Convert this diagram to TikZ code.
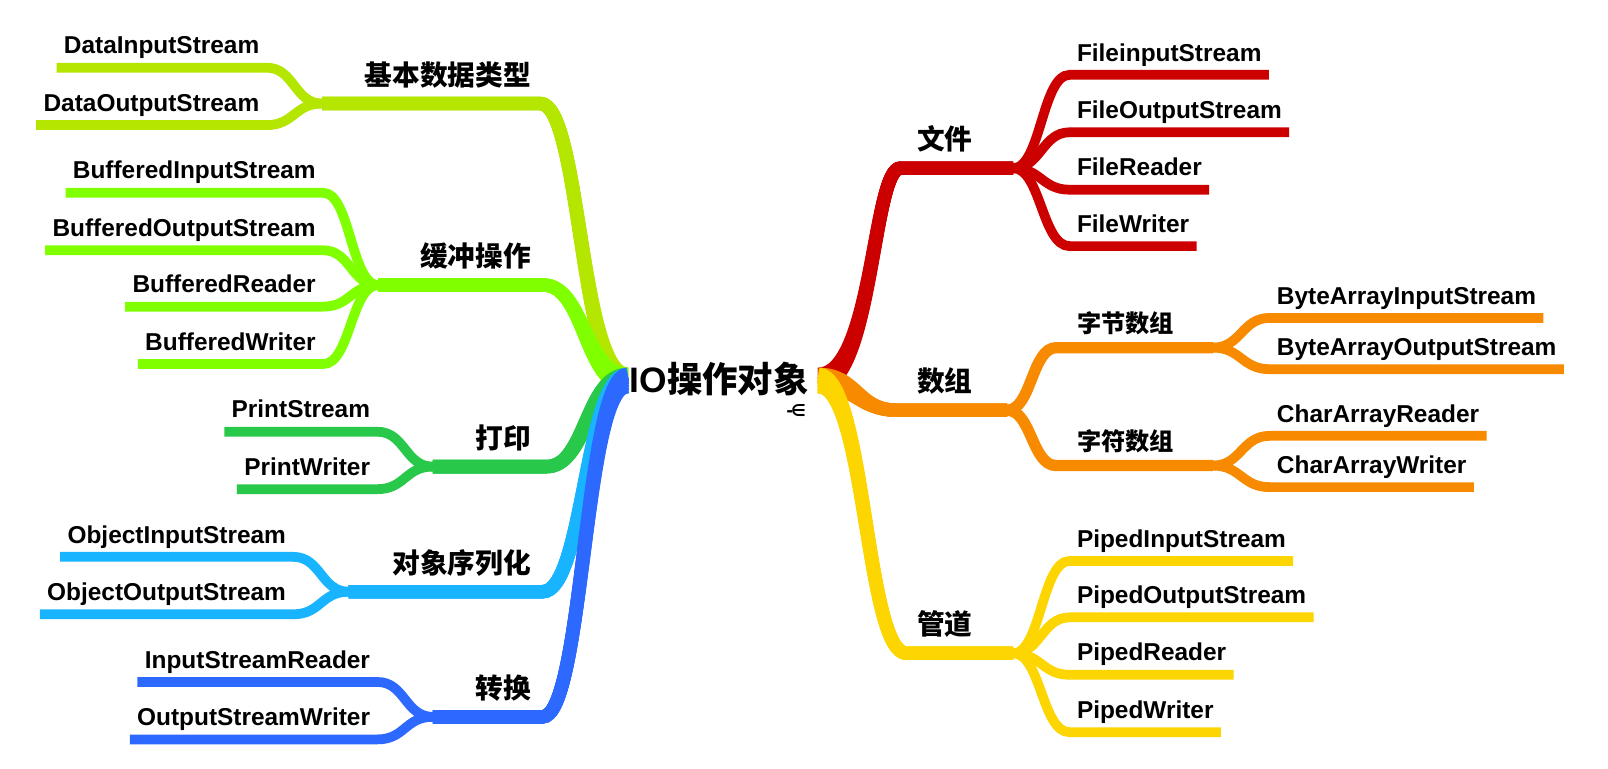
\documentclass[tikz,border=0pt]{standalone}
\usepackage{fontspec}
\setmainfont{Liberation Sans}
\newfontfamily\cjkf{Noto Sans CJK SC}
\newfontfamily\symf{DejaVu Sans}
\usetikzlibrary{calc}

\definecolor{cYG}{HTML}{B4E600}
\definecolor{cCH}{HTML}{80FF00}
\definecolor{cGR}{HTML}{28C84B}
\definecolor{cLB}{HTML}{19B4FF}
\definecolor{cBL}{HTML}{2D69FF}
\definecolor{cRD}{HTML}{CD0000}
\definecolor{cOR}{HTML}{F88A00}
\definecolor{cYE}{HTML}{FDD500}

\tikzset{
  mbr/.style={line width=13pt, line cap=butt},
  subbr/.style={line width=11pt, line cap=butt},
  leaf/.style={line width=9.5pt, line cap=butt},
  lt/.style={inner sep=0pt, font=\fontsize{23.8}{28}\selectfont\bfseries},
  lab/.style={inner sep=0pt, font=\fontsize{27}{32}\selectfont\cjkf\bfseries},
  sublab/.style={inner sep=0pt, font=\fontsize{23.6}{28}\selectfont\cjkf\bfseries},
}

% main branch: #1 colour, #2 centre end, #3 bend start, #4 junction, #5,#6 control offsets
\newcommand\mbranch[6]{%
  \foreach \d in {-6,-3,0,3,6}{%
    \draw[mbr,#1] (#4) -- (#3) .. controls +(#5,0) and +(#6,0) .. ($(#2)+(0,\d)$);
  }%
}
% leaf to the left: #1 colour, #2 junction, #3 x of line start, #4 line y, #5 text
\newcommand\leafL[5]{%
  \coordinate (s#5) at (#3,#4);
  \node[lt, anchor=base east] (n#5) at (#3-7,#4-13.5) {#5};
  \draw[leaf,#1] (#2) .. controls +(-27,0) and +(27,0) .. (s#5) -- ($(n#5.west |- s#5)+(-7,0)$);
}
% leaf to the right
\newcommand\leafR[5]{%
  \coordinate (s#5) at (#3,#4);
  \node[lt, anchor=base west] (n#5) at (#3+7,#4-13.5) {#5};
  \draw[leaf,#1] (#2) .. controls +(27,0) and +(-27,0) .. (s#5) -- ($(n#5.east |- s#5)+(7,0)$);
}

\begin{document}
\begin{tikzpicture}[x=1pt,y=-1pt]
\useasboundingbox (0,0) rectangle (1568,749);
\fill[white] (0,0) rectangle (1568,749);

% centre ends
\coordinate (Lc) at (612,371);
\coordinate (Rc) at (798,371);

% left branches
\coordinate (H1) at (527,101); \coordinate (J1) at (314,101);
\coordinate (H2) at (530,278); \coordinate (J2) at (369,278);
\coordinate (H3) at (533,455); \coordinate (J3) at (422,455);
\coordinate (H4) at (529,577); \coordinate (J4) at (340,577);
\coordinate (H5) at (529,699); \coordinate (J5) at (422,699);
% right branches
\coordinate (H6) at (878,164); \coordinate (J6) at (988,164);
\coordinate (H7) at (875,400); \coordinate (J7) at (982,400);
\coordinate (H8) at (884,637); \coordinate (J8) at (988,637);
\coordinate (Q1) at (1030,339); \coordinate (K1) at (1183,339);
\coordinate (Q2) at (1030,454); \coordinate (K2) at (1183,454);

% leaves, left
\leafL{cYG}{J1}{260}{66}{DataInputStream}
\leafL{cYG}{J1}{260}{122}{DataOutputStream}
\leafL{cCH}{J2}{315}{188}{BufferedInputStream}
\leafL{cCH}{J2}{315}{244}{BufferedOutputStream}
\leafL{cCH}{J2}{315}{299}{BufferedReader}
\leafL{cCH}{J2}{315}{355}{BufferedWriter}
\leafL{cGR}{J3}{368}{421}{PrintStream}
\leafL{cGR}{J3}{368}{477}{PrintWriter}
\leafL{cLB}{J4}{286}{543}{ObjectInputStream}
\leafL{cLB}{J4}{286}{599}{ObjectOutputStream}
\leafL{cBL}{J5}{368}{665}{InputStreamReader}
\leafL{cBL}{J5}{368}{721}{OutputStreamWriter}

% leaves, right
\leafR{cRD}{J6}{1043}{73}{FileinputStream}
\leafR{cRD}{J6}{1043}{129}{FileOutputStream}
\leafR{cRD}{J6}{1043}{185}{FileReader}
\leafR{cRD}{J6}{1043}{240}{FileWriter}
\leafR{cOR}{K1}{1238}{310}{ByteArrayInputStream}
\leafR{cOR}{K1}{1238}{360}{ByteArrayOutputStream}
\leafR{cOR}{K2}{1238}{425}{CharArrayReader}
\leafR{cOR}{K2}{1238}{475}{CharArrayWriter}
\leafR{cYE}{J8}{1043}{547}{PipedInputStream}
\leafR{cYE}{J8}{1043}{602}{PipedOutputStream}
\leafR{cYE}{J8}{1043}{658}{PipedReader}
\leafR{cYE}{J8}{1043}{714}{PipedWriter}

% sub-branches of the array topic
\draw[subbr,cOR] (J7) .. controls +(24,0) and +(-24,0) .. (Q1) -- (K1);
\draw[subbr,cOR] (J7) .. controls +(24,0) and +(-24,0) .. (Q2) -- (K2);

% main branches
\mbranch{cYG}{Lc}{H1}{J1}{39}{-46}
\mbranch{cCH}{Lc}{H2}{J2}{40}{-42}
\mbranch{cGR}{Lc}{H3}{J3}{38}{-41}
\mbranch{cLB}{Lc}{H4}{J4}{40}{-42}
\mbranch{cBL}{Lc}{H5}{J5}{40}{-42}
\mbranch{cRD}{Rc}{H6}{J6}{-27}{53}
\mbranch{cOR}{Rc}{H7}{J7}{-39}{38}
\mbranch{cYE}{Rc}{H8}{J8}{-40}{46}

% topic labels
\node[lab, anchor=base east] (tJiben) at (518,83) {基本数据类型};
\node[lab, anchor=base east] (tHuanchong) at (518,260) {缓冲操作};
\node[lab, anchor=base east] (tDayin) at (518,437) {打印};
\node[lab, anchor=base east] (tXulie) at (518,559) {对象序列化};
\node[lab, anchor=base east] (tZhuanhuan) at (518,681) {转换};
\node[lab, anchor=base west] (tWenjian) at (894,146) {文件};
\node[lab, anchor=base west] (tShuzu) at (894,382) {数组};
\node[lab, anchor=base west] (tGuandao) at (894,619) {管道};
\node[sublab, anchor=base west] (tZijie) at (1050,324) {字节数组};
\node[sublab, anchor=base west] (tZifu) at (1050,439) {字符数组};

% central topic
\node[inner sep=0pt, anchor=base west, font=\fontsize{34.5}{40}\selectfont\bfseries] (root) at (614,383) {IO{\cjkf 操作对象}};
\node[inner sep=0pt, anchor=east, font=\symf\bfseries\fontsize{16}{18}\selectfont] (mark) at (786,400) {-\kern-2pt∈};
\end{tikzpicture}
\end{document}
